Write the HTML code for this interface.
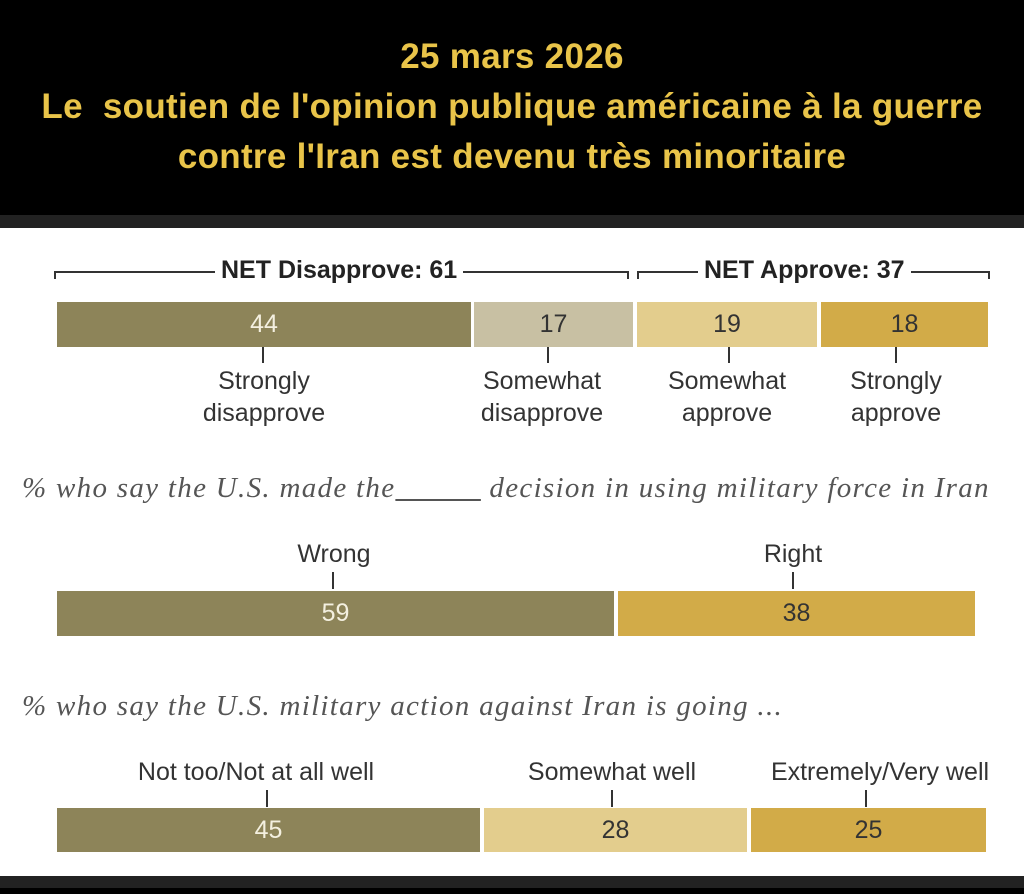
<!DOCTYPE html><html><head><style>
*{margin:0;padding:0;box-sizing:border-box}
body{width:1024px;height:894px;background:#000;position:relative;overflow:hidden;font-family:"Liberation Sans",sans-serif}
.t{position:absolute;left:0;width:1024px;text-align:center;color:#e9c449;font-weight:bold;font-size:35px;letter-spacing:0.3px}
.panel{position:absolute;left:0;top:228px;width:1024px;height:648px;background:#fff}
.band{position:absolute;left:0;width:1024px;background:#222}
.b{position:absolute;display:flex;align-items:center;justify-content:center;font-size:25px;color:#333}
.l{position:absolute;text-align:center;font-size:25px;color:#333;line-height:32px;transform:translateX(-50%);white-space:nowrap}
.k{position:absolute;width:2px;background:#333}
.q{position:absolute;font-family:"Liberation Serif",serif;font-style:italic;font-size:29px;letter-spacing:1.3px;color:#555;white-space:nowrap}
.h{position:absolute;height:2px;background:#333}
.v{position:absolute;width:2px;height:8px;background:#333}
.n{position:absolute;font-weight:bold;font-size:25px;color:#222;background:#fff;padding:0 6px;white-space:nowrap}
</style></head><body>
<div class="t" style="top:37px">25 mars 2026</div>
<div class="t" style="top:87px">Le&nbsp; soutien de l'opinion publique américaine à la guerre</div>
<div class="t" style="top:137px">contre l'Iran est devenu très minoritaire</div>
<div class="band" style="top:215px;height:13px"></div>
<div class="panel"></div>
<div class="band" style="top:876px;height:12px"></div>

<div class="h" style="left:54px;top:271px;width:575px"></div>
<div class="v" style="left:54px;top:271px"></div><div class="v" style="left:627px;top:271px"></div>
<div class="n" style="left:215px;top:256px">NET Disapprove: 61</div>
<div class="h" style="left:637px;top:271px;width:353px"></div>
<div class="v" style="left:637px;top:271px"></div><div class="v" style="left:988px;top:271px"></div>
<div class="n" style="left:698px;top:256px">NET Approve: 37</div>

<div class="b" style="left:57px;top:302px;width:414px;height:45px;background:#8d8459;color:#f4f0e0">44</div>
<div class="b" style="left:474px;top:302px;width:159px;height:45px;background:#c8c0a3">17</div>
<div class="b" style="left:637px;top:302px;width:180px;height:45px;background:#e3cd8d">19</div>
<div class="b" style="left:821px;top:302px;width:167px;height:45px;background:#d2ab48">18</div>
<div class="k" style="left:262px;top:347px;height:16px"></div>
<div class="k" style="left:547px;top:347px;height:16px"></div>
<div class="k" style="left:728px;top:347px;height:16px"></div>
<div class="k" style="left:895px;top:347px;height:16px"></div>
<div class="l" style="left:264px;top:365px">Strongly<br>disapprove</div>
<div class="l" style="left:542px;top:365px">Somewhat<br>disapprove</div>
<div class="l" style="left:727px;top:365px">Somewhat<br>approve</div>
<div class="l" style="left:896px;top:365px">Strongly<br>approve</div>

<div class="q" style="left:22px;top:472px">% who say the U.S. made the<span style="text-decoration:underline">&nbsp;&nbsp;&nbsp;&nbsp;&nbsp;&nbsp;&nbsp;&nbsp;&nbsp;&nbsp;</span> decision in using military force in Iran</div>

<div class="l" style="left:334px;top:538px">Wrong</div>
<div class="l" style="left:793px;top:538px">Right</div>
<div class="k" style="left:332px;top:572px;height:17px"></div>
<div class="k" style="left:792px;top:572px;height:17px"></div>
<div class="b" style="left:57px;top:591px;width:557px;height:45px;background:#8d8459;color:#f4f0e0">59</div>
<div class="b" style="left:618px;top:591px;width:357px;height:45px;background:#d2ab48">38</div>

<div class="q" style="left:22px;top:690px">% who say the U.S. military action against Iran is going ...</div>

<div class="l" style="left:256px;top:756px">Not too/Not at all well</div>
<div class="l" style="left:612px;top:756px">Somewhat well</div>
<div class="l" style="left:880px;top:756px">Extremely/Very well</div>
<div class="k" style="left:266px;top:790px;height:17px"></div>
<div class="k" style="left:611px;top:790px;height:17px"></div>
<div class="k" style="left:865px;top:790px;height:17px"></div>
<div class="b" style="left:57px;top:808px;width:423px;height:44px;background:#8d8459;color:#f4f0e0">45</div>
<div class="b" style="left:484px;top:808px;width:263px;height:44px;background:#e3cd8d">28</div>
<div class="b" style="left:751px;top:808px;width:235px;height:44px;background:#d2ab48">25</div>
</body></html>
